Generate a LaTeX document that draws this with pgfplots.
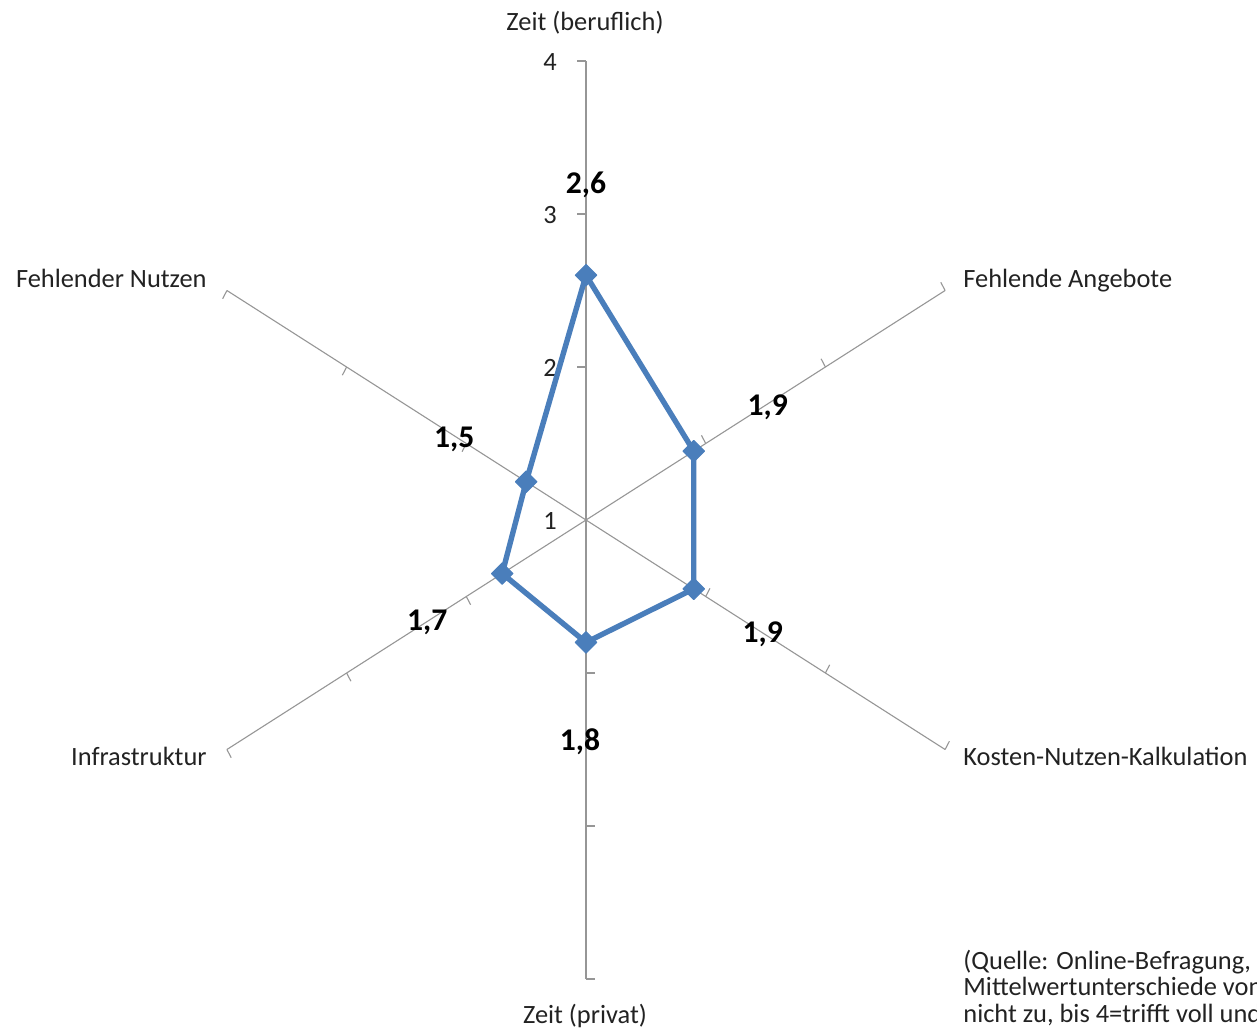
\documentclass[border=0pt]{standalone}
\usepackage{pgfplots}
\usepackage{pgfplotstable}
\pgfplotsset{compat=1.18}
\usepackage{fontspec}
\setmainfont{Carlito}

\definecolor{serieblue}{HTML}{4A7EBB}
\definecolor{spoke}{HTML}{969696}
\definecolor{labeltext}{HTML}{222222}

% spoke angle (deg), mean score, data label, label offset (pt)
\pgfplotstableread{
angle value label dx dy
90 2.6 {2,6} 0 45
30 1.9 {1,9} 37 22
-30 1.9 {1,9} 34.5 -22.5
-90 1.8 {1,8} -3 -49.5
-150 1.7 {1,7} -37.5 -24.5
150 1.5 {1,5} -36 21
}\means

\begin{document}
\begin{tikzpicture}
\useasboundingbox (0,0) rectangle (628.5pt,516.5pt);
\clip (0,0) rectangle (628.5pt,516.5pt);
\begin{axis}[
  at={(0,0)}, anchor=south west,
  width=628.5pt, height=516.5pt, scale only axis,
  hide axis, clip=false,
  xmin=-4.240, xmax=4.855, ymin=-3.353, ymax=3.399,
]
% spokes of the radar grid (scale 1 at the centre, 4 at the ends)
\pgfplotsinvokeforeach{90,30,-30,-90,-150,150}{
  \draw[spoke, line width=0.55pt] (axis cs:0,0) -- (axis cs:{3*cos(#1)},{3*sin(#1)});
  \draw[spoke, line width=0.55pt]
    (axis cs:{1*cos(#1)},{1*sin(#1)}) -- (axis cs:{1*cos(#1)+0.062*cos(#1+90)},{1*sin(#1)+0.062*sin(#1+90)})
    (axis cs:{2*cos(#1)},{2*sin(#1)}) -- (axis cs:{2*cos(#1)+0.062*cos(#1+90)},{2*sin(#1)+0.062*sin(#1+90)})
    (axis cs:{3*cos(#1)},{3*sin(#1)}) -- (axis cs:{3*cos(#1)+0.062*cos(#1+90)},{3*sin(#1)+0.062*sin(#1+90)});
}
% scale labels on the vertical spoke
\pgfplotsinvokeforeach{0,1,2,3}{
  \node[anchor=center, inner sep=0pt, xshift=-18pt, yshift=-0.5pt, text=labeltext,
        font=\fontsize{13.2}{15.8}\selectfont] at (axis cs:0,#1) {\pgfmathparse{int(#1+1)}\pgfmathresult};
}
% mean scores
\addplot[serieblue, line width=2.7pt, line join=round,
  mark=square*, mark size=3.8pt,
  mark options={rotate=45, solid, fill=serieblue, line width=0.5pt},
  nodes near coords, point meta=explicit symbolic,
  visualization depends on={\thisrow{dx}\as\dx},
  visualization depends on={\thisrow{dy}\as\dy},
  every node near coord/.append style={anchor=center, inner sep=0pt,
    xshift=\dx, yshift=\dy, text=black,
    font=\bfseries\fontsize{15.8}{18}\selectfont},
] table[x expr={(\thisrow{value}-1)*cos(\thisrow{angle})},
        y expr={(\thisrow{value}-1)*sin(\thisrow{angle})},
        meta=label] {\means} -- cycle;
\end{axis}
% category and source captions, placed on a 1257 x 1033 grid
\begin{scope}[shift={(0,516.5pt)}, x=0.5pt, y=-0.5pt,
  every node/.style={inner sep=0pt, text=labeltext, font=\fontsize{13.2}{15.8}\selectfont}]
\node[anchor=base] at (585,31) {Zeit (beruflich)};
\node[anchor=base west] at (963,288) {Fehlende Angebote};
\node[anchor=base west] at (963,766) {Kosten-Nutzen-Kalkulation};
\node[anchor=base] at (585,1023) {Zeit (privat)};
\node[anchor=base east] at (207,766) {Infrastruktur};
\node[anchor=base east] at (207,288) {Fehlender Nutzen};
\node[anchor=base west] at (963,969) {(Quelle: Online-Befragung,};
\node[anchor=base west] at (963,995) {Mittelwertunterschiede von};
\node[anchor=base west] at (963,1022) {nicht zu, bis 4=trifft voll und};
\end{scope}
\end{tikzpicture}
\end{document}
